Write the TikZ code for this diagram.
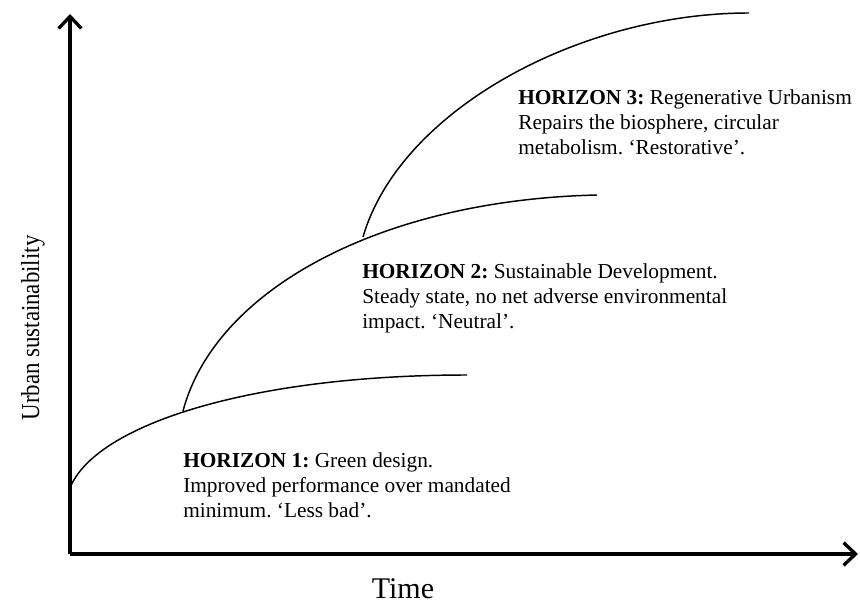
\documentclass[tikz,border=0pt]{standalone}
\usepackage{fontspec}
\setmainfont{Liberation Serif}
\usetikzlibrary{arrows.meta}
\frenchspacing
\begin{document}
\begin{tikzpicture}[x=0.75pt,y=-0.75pt,
  axisline/.style={line width=2.5pt,-{Straight Barb[length=9pt,width=17pt,line width=2.5pt]}},
  curveline/.style={line width=1.1pt},
  horizon/.style={anchor=north west,inner sep=0pt,align=left,font=\fontsize{16pt}{18.9pt}\selectfont},
  axislabel/.style={inner sep=0pt}]
\useasboundingbox (0,0) rectangle (860,606);
\coordinate (origin) at (70,554);
\coordinate (ytip) at (70,14);
\coordinate (xtip) at (858,554);
\draw[axisline] (origin) -- (ytip);
\draw[axisline] (origin) -- (xtip);
% curves
\coordinate (c1s) at (70,488);
\coordinate (j1) at (183,411);
\coordinate (c1e) at (467,375);
\coordinate (j2) at (363,237);
\coordinate (c2e) at (597,195);
\coordinate (c3e) at (749,13);
\draw[curveline] (c1s) .. controls (95,425) and (250,375) .. (c1e);
\draw[curveline] (j1) .. controls (215,290) and (380,200) .. (c2e);
\draw[curveline] (j2) .. controls (400,110) and (580,13) .. (c3e);
% texts
\node[horizon] (h3) at (518,89) {\textbf{HORIZON 3:} Regenerative Urbanism\\Repairs the biosphere, circular\\metabolism. ‘Restorative’.};
\node[horizon] (h2) at (362,263) {\textbf{HORIZON 2:} Sustainable Development.\\Steady state, no net adverse environmental\\impact. ‘Neutral’.};
\node[horizon] (h1) at (183,452) {\textbf{HORIZON 1:} Green design.\\Improved performance over mandated\\minimum. ‘Less bad’.};
\node[axislabel,anchor=base,font=\fontsize{22.5pt}{26pt}\selectfont] (tl) at (403,598) {Time};
\node[axislabel,anchor=base,rotate=90,xscale=0.88,font=\fontsize{19.5pt}{23pt}\selectfont] (yl) at (39,328) {Urban sustainability};
\end{tikzpicture}
\end{document}
